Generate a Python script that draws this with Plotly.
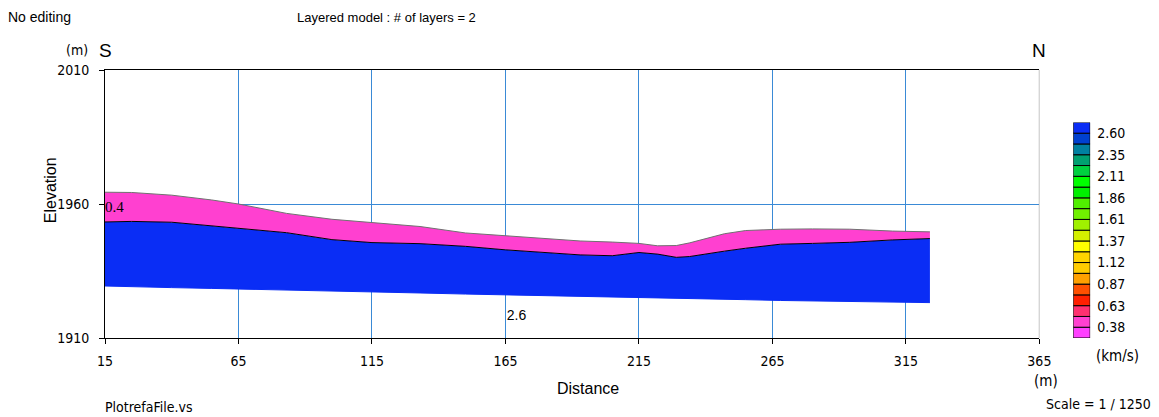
import plotly.graph_objects as go

# Section profile (distance in m, elevation in m)
distance = [15, 25, 40, 55, 65, 83, 100, 115, 133, 150, 165, 180, 193, 205, 215,
            222, 229, 234, 240, 247, 255, 268, 280, 294, 310, 324]
surface = [1964.4, 1964.3, 1963.3, 1961.5, 1960.0, 1956.5, 1954.3, 1953.0, 1951.6,
           1949.2, 1948.1, 1946.9, 1946.2, 1945.8, 1945.3, 1944.4, 1944.5, 1945.5,
           1947.1, 1948.9, 1950.1, 1950.6, 1950.7, 1950.6, 1949.9, 1949.6]
boundary = [1953.3, 1953.5, 1953.2, 1951.8, 1951.1, 1949.3, 1946.7, 1945.6, 1945.2,
            1944.2, 1942.9, 1941.9, 1941.0, 1940.7, 1941.9, 1941.3, 1940.1, 1940.4,
            1941.2, 1942.4, 1943.5, 1945.0, 1945.3, 1945.7, 1946.6, 1947.1]
base = [1929.4, 1929.1, 1928.8, 1928.5, 1928.3, 1928.0, 1927.7, 1927.4, 1926.8,
        1926.4, 1926.1, 1925.9, 1925.8, 1925.5, 1925.3, 1925.2, 1925.0, 1924.9,
        1924.6, 1924.5, 1924.3, 1924.0, 1923.8, 1923.6, 1923.4, 1923.2]

# Layer velocities (km/s) and label positions
layer_velocity = [0.4, 2.6]
layer_label_pos = [(15, 1958.6), (165.5, 1918.0)]

# Velocity palette, lowest to highest
palette = ["#ff40ff", "#ff40d0", "#ff3070", "#ff2000", "#ff5000", "#ffa000",
           "#ffcc00", "#ffd400", "#ffff00", "#d4f000", "#a0f000", "#70f000",
           "#50f000", "#00f000", "#00ff00", "#00d040", "#00a070", "#0080a0",
           "#0040d0", "#0a2df5"]
vel_ticks = [0.38, 0.63, 0.87, 1.12, 1.37, 1.61, 1.86, 2.11, 2.35, 2.60]

x_ticks = [15, 65, 115, 165, 215, 265, 315, 365]
y_ticks = [1910, 1960, 2010]

vmin, vmax = 0.38, 2.60
def vel_color(v):
    # nearest palette slot for a velocity
    step = (vmax - vmin) / (len(palette) - 2)
    k = round((v - vmin) / step) + 1
    k = max(0, min(len(palette) - 1, k))
    return palette[k]

NARROW = "Liberation Sans Narrow, DejaVu Sans Condensed, Arial Narrow, sans-serif"
SANS = "Liberation Sans, Arial, sans-serif"

fig = go.Figure()

# Model base (reference line for fill)
fig.add_trace(go.Scatter(x=distance, y=base, mode="lines",
                         line=dict(color=vel_color(layer_velocity[1]), width=1),
                         hoverinfo="skip", showlegend=False))
# Layer 2
fig.add_trace(go.Scatter(x=distance, y=boundary, mode="lines", fill="tonexty",
                         fillcolor=vel_color(layer_velocity[1]),
                         line=dict(color="#000000", width=1),
                         hoverinfo="skip", showlegend=False))
# Layer 1
fig.add_trace(go.Scatter(x=distance, y=surface, mode="lines", fill="tonexty",
                         fillcolor=vel_color(layer_velocity[0]),
                         line=dict(color="#707070", width=1),
                         hoverinfo="skip", showlegend=False))

# Layer velocity labels
fig.add_trace(go.Scatter(x=[layer_label_pos[0][0]], y=[layer_label_pos[0][1]],
                         mode="text", text=[f"{layer_velocity[0]:.1f}"],
                         textposition="middle right", cliponaxis=False,
                         textfont=dict(family="Liberation Serif, serif", size=15, color="#000"),
                         hoverinfo="skip", showlegend=False))
fig.add_trace(go.Scatter(x=[layer_label_pos[1][0]], y=[layer_label_pos[1][1]],
                         mode="text", text=[f"{layer_velocity[1]:.1f}"],
                         textposition="middle right", cliponaxis=False,
                         textfont=dict(family=SANS, size=14, color="#000"),
                         hoverinfo="skip", showlegend=False))

# Velocity colour scale
n = len(palette)
fig.add_trace(go.Bar(x=[0] * n, y=[1] * n, base=list(range(n)),
                     marker=dict(color=palette, line=dict(color="#000", width=1)),
                     width=1, xaxis="x2", yaxis="y2",
                     hoverinfo="skip", showlegend=False))

L, R, T, B = 105, 20, 70, 79
W, H = 1159, 417
pw = W - L - R
main_right = (1043 - L) / pw

fig.update_layout(
    width=W, height=H,
    margin=dict(l=L, r=R, t=T, b=B, pad=0),
    paper_bgcolor="white", plot_bgcolor="white",
    barmode="overlay",
    xaxis=dict(domain=[0, main_right], range=[15, 365], tickvals=x_ticks,
               ticktext=[str(v) for v in x_ticks],
               showgrid=True, gridcolor="#3a8ad6", gridwidth=1,
               showline=True, linecolor="#000", linewidth=1, mirror=True,
               ticks="outside", ticklen=5, tickcolor="#000",
               ticklabelstandoff=5,
               tickfont=dict(family=NARROW, size=14, color="#000"),
               zeroline=False, fixedrange=True),
    yaxis=dict(domain=[0, 1], range=[1910, 2010], tickvals=y_ticks,
               showgrid=True, gridcolor="#3a8ad6", gridwidth=1,
               showline=True, linecolor="#000", linewidth=1,
               ticks="outside", ticklen=5, tickcolor="#000",
               ticklabelstandoff=7,
               tickfont=dict(family=NARROW, size=14, color="#000"),
               zeroline=False, fixedrange=True),
    xaxis2=dict(domain=[(1077 - L) / pw, (1094 - L) / pw], range=[-0.5, 0.5],
                anchor="y2", showgrid=False, showticklabels=False,
                zeroline=False, showline=False, fixedrange=True),
    yaxis2=dict(domain=[0, (338.3 - 122.7) / 268], range=[0, n], anchor="x2",
                side="right", tickvals=[1 + 2 * i for i in range(len(vel_ticks))],
                ticktext=[f"{v:.2f}" for v in vel_ticks],
                showgrid=False, zeroline=False, showline=False, ticks="",
                ticklabelstandoff=6,
                tickfont=dict(family=NARROW, size=14, color="#000"),
                fixedrange=True),
)

# Right-hand border at 365 m
fig.add_shape(type="line", xref="x", yref="y", x0=365, x1=365, y0=1910, y1=2010,
              line=dict(color="#808080", width=1))

def note(text, x, y, size=13, xanchor="left", family=SANS, angle=0):
    fig.add_annotation(text=text, xref="paper", yref="paper",
                       x=(x - L) / pw, y=(H - B - y) / (H - T - B),
                       xanchor=xanchor, yanchor="middle", showarrow=False,
                       textangle=angle,
                       font=dict(family=family, size=size, color="#000"))

note("No editing", 6, 17, size=14)
note("Layered model : # of layers = 2", 296, 17, size=13)
note("(m)", 90, 50, size=14, xanchor="right", family=NARROW)
note("S", 97, 50, size=19)
note("N", 1034, 50, size=19)
note("Elevation", 50, 190, size=16, xanchor="center", angle=-90)
note("Distance", 590, 388, size=16, xanchor="center")
note("(m)", 1050, 381, size=15, xanchor="center", family=NARROW)
note("(km/s)", 1098, 356, size=15, xanchor="left", family=NARROW)
note("PlotrefaFile.vs", 103, 407, size=14, family=NARROW)
note("Scale = 1 / 1250", 1157, 404, size=14, xanchor="right", family=NARROW)

fig.write_html("out.html")
